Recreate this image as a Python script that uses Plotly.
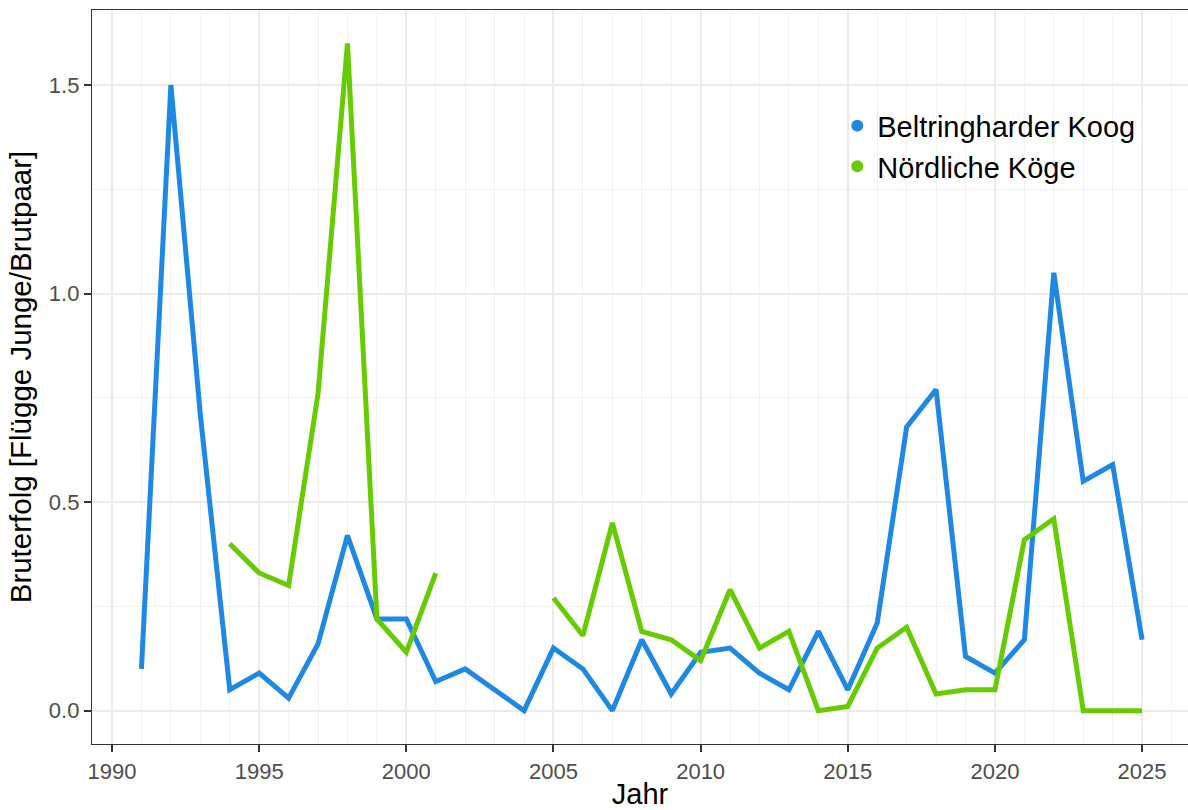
import plotly.graph_objects as go

years = list(range(1991, 2026))

beltringharder = [0.10, 1.50, 0.71, 0.05, 0.09, 0.03, 0.16, 0.42, 0.22, 0.22,
                  0.07, 0.10, 0.05, 0.00, 0.15, 0.10, 0.00, 0.17, 0.04, 0.14,
                  0.15, 0.09, 0.05, 0.19, 0.05, 0.21, 0.68, 0.77, 0.13, 0.09,
                  0.17, 1.05, 0.55, 0.59, 0.17]

noerdliche = [None, None, None, 0.40, 0.33, 0.30, 0.76, 1.60, 0.22, 0.14,
              0.33, None, None, None, 0.27, 0.18, 0.45, 0.19, 0.17, 0.12,
              0.29, 0.15, 0.19, 0.00, 0.01, 0.15, 0.20, 0.04, 0.05, 0.05,
              0.41, 0.46, 0.00, 0.00, 0.00]

series_names = ["Beltringharder Koog", "Nördliche Köge"]
series_colors = ["#1E88E5", "#66CC00"]

x_ticks = [1990, 1995, 2000, 2005, 2010, 2015, 2020, 2025]
y_ticks = [0.0, 0.5, 1.0, 1.5]
y_ticklabels = ["0.0", "0.5", "1.0", "1.5"]

FONT = "Liberation Sans, Arial, sans-serif"

fig = go.Figure()
for name, vals, col in zip(series_names, [beltringharder, noerdliche], series_colors):
    fig.add_trace(go.Scatter(x=years, y=vals, mode="lines", name=name,
                             line=dict(color=col, width=5),
                             connectgaps=False, showlegend=False))
# legend keys (points)
for name, col in zip(series_names, series_colors):
    fig.add_trace(go.Scatter(x=[None], y=[None], mode="markers", name=name,
                             marker=dict(color=col, size=12), showlegend=True))

grid_major = "#EBEBEB"
grid_minor = "#F2F2F2"

fig.update_layout(
    width=1188, height=810,
    margin=dict(l=92, r=0, t=10, b=66, autoexpand=False),
    paper_bgcolor="white", plot_bgcolor="white",
    font=dict(family=FONT, color="black"),
    showlegend=True,
    legend=dict(x=0.680, y=0.877, xanchor="left", yanchor="top",
                bgcolor="rgba(0,0,0,0)", font=dict(size=29, color="black", family=FONT),
                itemsizing="constant"),
    xaxis=dict(
        range=[1989.32, 2026.56], automargin=False,
        tickvals=x_ticks, ticktext=[str(v) for v in x_ticks],
        tickfont=dict(size=22, color="#4D4D4D", family=FONT),
        ticks="outside", ticklen=7, tickwidth=1.5, tickcolor="#333333",
        showline=True, linecolor="#333333", linewidth=1.3, mirror=True,
        showgrid=True, gridcolor=grid_major, gridwidth=1.8,
        minor=dict(dtick=1, tick0=1990, showgrid=True, gridcolor=grid_minor, gridwidth=1.2, ticks=""),
        zeroline=False,
        title=dict(text="Jahr", font=dict(size=29, color="black", family=FONT), standoff=4),
    ),
    yaxis=dict(
        range=[-0.08, 1.68], automargin=False,
        tickvals=y_ticks, ticktext=y_ticklabels,
        tickfont=dict(size=22, color="#4D4D4D", family=FONT),
        ticks="outside", ticklen=7, tickwidth=1.5, tickcolor="#333333",
        showline=True, linecolor="#333333", linewidth=1.3, mirror=False,
        showgrid=True, gridcolor=grid_major, gridwidth=1.8,
        minor=dict(dtick=0.25, tick0=0, showgrid=True, gridcolor=grid_minor, gridwidth=1.2, ticks=""),
        zeroline=False,
        title=dict(text="Bruterfolg [Flügge Junge/Brutpaar]", font=dict(size=29.5, color="black", family=FONT), standoff=8),
    ),
)

fig.write_html("out.html", config={"displayModeBar": False})

with open("out.html", "r", encoding="utf-8") as f:
    html = f.read()
html = html.replace("<head>", "<head><style>html,body{margin:0;padding:0;overflow:hidden;}</style>", 1)
with open("out.html", "w", encoding="utf-8") as f:
    f.write(html)
